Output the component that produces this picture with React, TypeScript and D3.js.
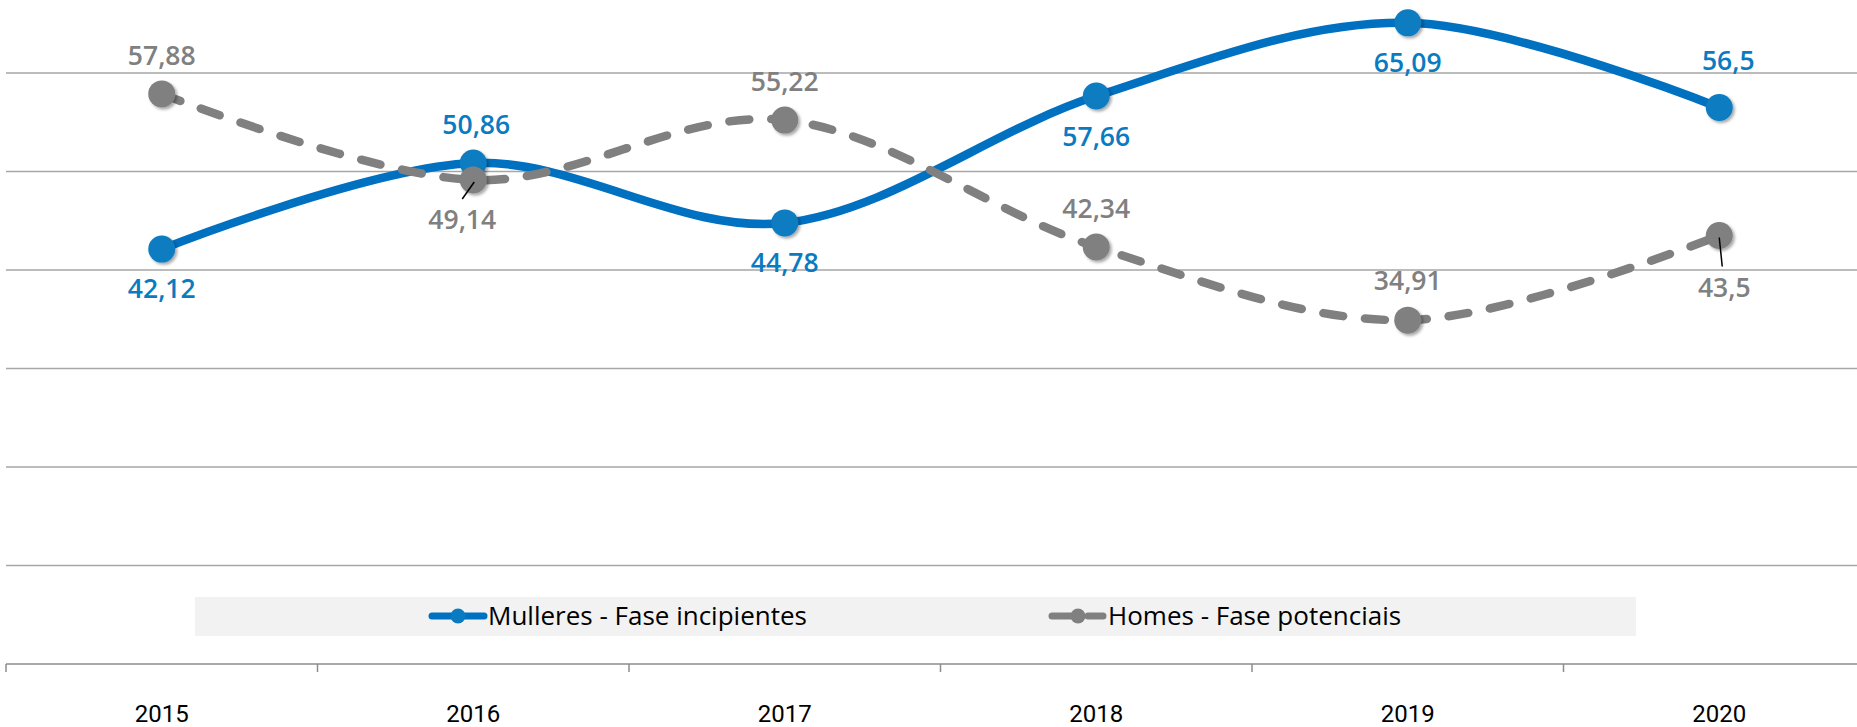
import React from 'react';
import * as d3 from 'd3';

// chart values
const years = ['2015', '2016', '2017', '2018', '2019', '2020'];
const mulleres = [42.12, 50.86, 44.78, 57.66, 65.09, 56.5];
const homes = [57.88, 49.14, 55.22, 42.34, 34.91, 43.5];
const gridValues = [10, 20, 30, 40, 50, 60];
const seriesNames = ['Mulleres - Fase incipientes', 'Homes - Fase potenciais'];

// label placement (offsets from the point, px)
const mullLabelDy = [40, -38, 40, 41, 40, -47];
const mullLabelDx = [0, 3, 0, 0, 0, 9];
const homesLabelDy = [-38, 40, -38, -38, -39, 52];
const homesLabelDx = [0, -11, 0, 0, 0, 5];
const homesLeader = [false, true, false, false, false, true];

const W = 1857;
const H = 727;
const BLUE = '#0070c0';
const BLUE_DOT = '#0a7bc1';
const GRAY = '#808080';

const fmt = (v: number) => String(v).replace('.', ',');

export default function App() {
  const x = d3.scaleBand().domain(years).range([6, 1875]);
  const y = d3.scaleLinear().domain([0, 60]).range([664, 73]);
  const cx = (yr: string) => (x(yr) as number) + x.bandwidth() / 2;

  const line = d3
    .line<number>()
    .x((_, i) => cx(years[i]))
    .y((d) => y(d))
    .curve(d3.curveCardinal.tension(0));

  const labelFont = "'Open Sans', sans-serif";
  const axisFont = "Roboto, sans-serif";
  const legendFont = "'Open Sans', sans-serif";

  return (
    <>
      <style>{`body{margin:0;overflow:hidden}`}</style>
      <svg width={W} height={H} style={{ display: 'block', background: '#fff' }}>
        <defs>
          <filter id="shadow" x="-50%" y="-50%" width="200%" height="200%">
            <feDropShadow dx="2" dy="2" stdDeviation="1.6" floodColor="#000" floodOpacity="0.35" />
          </filter>
        </defs>

        {/* gridlines */}
        {gridValues.map((v) => (
          <line key={v} x1={6} x2={W} y1={y(v)} y2={y(v)} stroke="#a6a6a6" strokeWidth={1.5} />
        ))}

        {/* x axis */}
        <line x1={6} x2={W} y1={y(0)} y2={y(0)} stroke="#8c8c8c" strokeWidth={1.5} />
        {years.map((yr) => (
          <line key={'t' + yr} x1={x(yr)} x2={x(yr)} y1={y(0)} y2={y(0) + 8} stroke="#8c8c8c" strokeWidth={1.5} />
        ))}
        {years.map((yr) => (
          <text key={'l' + yr} x={cx(yr)} y={714} dy="0.35em" textAnchor="middle"
            fontFamily={axisFont} fontSize={24} fill="#000">{yr}</text>
        ))}

        {/* legend */}
        <rect x={195} y={597} width={1441} height={39} fill="#f2f2f2" />
        <g transform="translate(0,616)">
          <line x1={432} x2={484} stroke={BLUE} strokeWidth={7} strokeLinecap="round" />
          <circle cx={458} r={7.5} fill={BLUE_DOT} />
          <text x={488} dy="0.35em" fontFamily={legendFont} fontSize={26} fill="#000">{seriesNames[0]}</text>
          <line x1={1052} x2={1072} stroke={GRAY} strokeWidth={7} strokeLinecap="round" />
          <line x1={1088} x2={1103} stroke={GRAY} strokeWidth={7} strokeLinecap="round" />
          <circle cx={1078} r={7.5} fill={GRAY} />
          <text x={1108} dy="0.35em" fontFamily={legendFont} fontSize={26} fill="#000">{seriesNames[1]}</text>
        </g>

        {/* Mulleres series */}
        <path d={line(mulleres) as string} fill="none" stroke={BLUE} strokeWidth={8.5} strokeLinecap="round" />
        {mulleres.map((v, i) => (
          <circle key={'md' + i} cx={cx(years[i])} cy={y(v)} r={13.5} fill={BLUE_DOT} filter="url(#shadow)" />
        ))}

        {/* Homes series */}
        <path d={line(homes) as string} fill="none" stroke={GRAY} strokeWidth={8.5}
          strokeDasharray="20 22" strokeLinecap="round" />
        {homes.map((v, i) => (
          <circle key={'hd' + i} cx={cx(years[i])} cy={y(v)} r={13.5} fill={GRAY} filter="url(#shadow)" />
        ))}

        {/* leader lines */}
        {homes.map((v, i) =>
          homesLeader[i] ? (
            <line key={'ld' + i}
              x1={cx(years[i]) + (homesLabelDx[i] < 0 ? 1 : 0)} y1={y(v) + 2}
              x2={cx(years[i]) + (homesLabelDx[i] < 0 ? homesLabelDx[i] : 3)} y2={y(v) + homesLabelDy[i] - 21}
              stroke="#000" strokeWidth={1.5} />
          ) : null
        )}

        {/* data labels */}
        {mulleres.map((v, i) => (
          <text key={'ml' + i} x={cx(years[i]) + mullLabelDx[i]} y={y(v) + mullLabelDy[i]} dy="0.35em"
            textAnchor="middle" fontFamily={labelFont} fontWeight={600} fontSize={26.5} fill={BLUE_DOT}>
            {fmt(v)}
          </text>
        ))}
        {homes.map((v, i) => (
          <text key={'hl' + i} x={cx(years[i]) + homesLabelDx[i]} y={y(v) + homesLabelDy[i]} dy="0.35em"
            textAnchor="middle" fontFamily={labelFont} fontWeight={600} fontSize={26.5} fill={GRAY}>
            {fmt(v)}
          </text>
        ))}
      </svg>
    </>
  );
}
